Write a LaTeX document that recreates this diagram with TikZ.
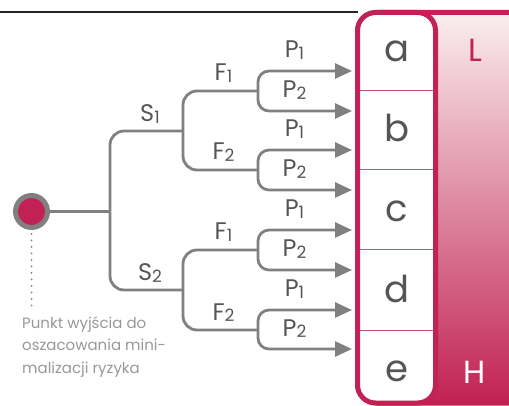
\documentclass[tikz,border=0pt]{standalone}
\usepackage{fontspec}
\setmainfont{Poppins}
\usetikzlibrary{arrows.meta,positioning}
\definecolor{crimson}{RGB}{193,33,84}
\definecolor{treegray}{RGB}{128,128,128}
\definecolor{notegray}{RGB}{152,152,152}
\definecolor{lettergray}{RGB}{85,85,85}
\definecolor{palepink}{RGB}{250,238,240}
\newcommand{\lowidx}[1]{\raisebox{-1.5pt}{\fontsize{17}{17}\selectfont #1}}
\tikzset{
  branch/.style={treegray, line width=2.8pt, rounded corners=14pt},
  outcome/.style={branch, rounded corners=11pt, -{Triangle[length=17pt,width=15pt]}},
  lbl/.style={text=lettergray, font=\fontsize{24}{24}\selectfont, inner sep=0pt, anchor=base},
  cell/.style={text=lettergray, font=\fontsize{37}{37}\selectfont, inner sep=0pt, anchor=base},
  level/.style={font=\fontsize{32}{32}\selectfont, inner sep=0pt, anchor=base},
}
\begin{document}
\begin{tikzpicture}[x=1pt,y=-1pt]
            % Define dimensions
            \def\colleft{357.5}
            \def\colright{435.5}
            \def\frametop{12.5}
            \def\framebot{403}
            \useasboundingbox (0,0) rectangle (509,406);
            \clip (0,0) rectangle (509,406);
            % Top rule
            \draw[line width=2pt, black!85] (0,12) -- (\colleft,12);
            % Result frame with gradient on the right
            \draw[crimson, line width=5pt, rounded corners=20pt, top color=palepink, bottom color=crimson]
                (\colleft,\frametop) rectangle (560,\framebot);
            % White column with the outcomes
            \draw[crimson, line width=5pt, fill=white, rounded corners=18pt]
                (\colleft,\frametop) rectangle (\colright,\framebot);
            \foreach \y in {91,170,250,330}
                \draw[crimson!80, line width=1pt] (\colleft+2.5,\y) -- (\colright-2.5,\y);
            \foreach \n/\y in {a/62,b/142,c/222,d/302,e/381}
                \node[cell] (\n) at (397,\y) {\n};
            \node[level, text=crimson] (low) at (475,62) {L};
            \node[level, text=white] (high) at (475,383) {H};
            % Start point
            \node[circle, draw=treegray, line width=5pt, fill=crimson, minimum size=32pt, inner sep=0pt]
                (start) at (31.5,211.5) {};
            \coordinate (stem) at (110,211.5);
            \draw[branch] (start) -- (stem);
            \coordinate (noteend) at (31.5,308);
            \draw[treegray, line width=2pt, line cap=round, dash pattern=on 0pt off 6.5pt] (start.south) ++(0,4) -- (noteend);
            \node[text=notegray, align=left, anchor=north west, inner sep=0pt,
                font=\fontsize{15}{22.5}\selectfont] (note) at (22,316)
                {Punkt wyjścia do\\oszacowania mini-\\malizacji ryzyka};
            % S level
            \foreach \s/\y in {1/131,2/290} {
                \coordinate (s\s) at (183,\y);
                \draw[branch] (stem) |- (s\s);
                \node[lbl] (slbl\s) at (150,\y-9) {S\lowidx{\s}};
            }
            % F level
            \foreach \s/\f/\y in {1/1/91,1/2/170,2/1/250,2/2/330} {
                \coordinate (f\s\f) at (258,\y);
                \draw[branch] (s\s) |- (f\s\f);
                \node[lbl] (flbl\s\f) at (223.5,\y-10) {F\lowidx{\f}};
            }
            % P level, arrows to the outcomes
            \foreach \s/\f/\p/\y in {1/1/1/71,1/1/2/111,1/2/1/150,1/2/2/190,2/1/1/230,2/1/2/270,2/2/1/310,2/2/2/349} {
                \coordinate (p\s\f\p) at (352,\y);
                \draw[outcome] (f\s\f) |- (p\s\f\p);
                \node[lbl] (plbl\s\f\p) at (294.5,\y-13) {P\lowidx{\p}};
            }
        \end{tikzpicture}
\end{document}
